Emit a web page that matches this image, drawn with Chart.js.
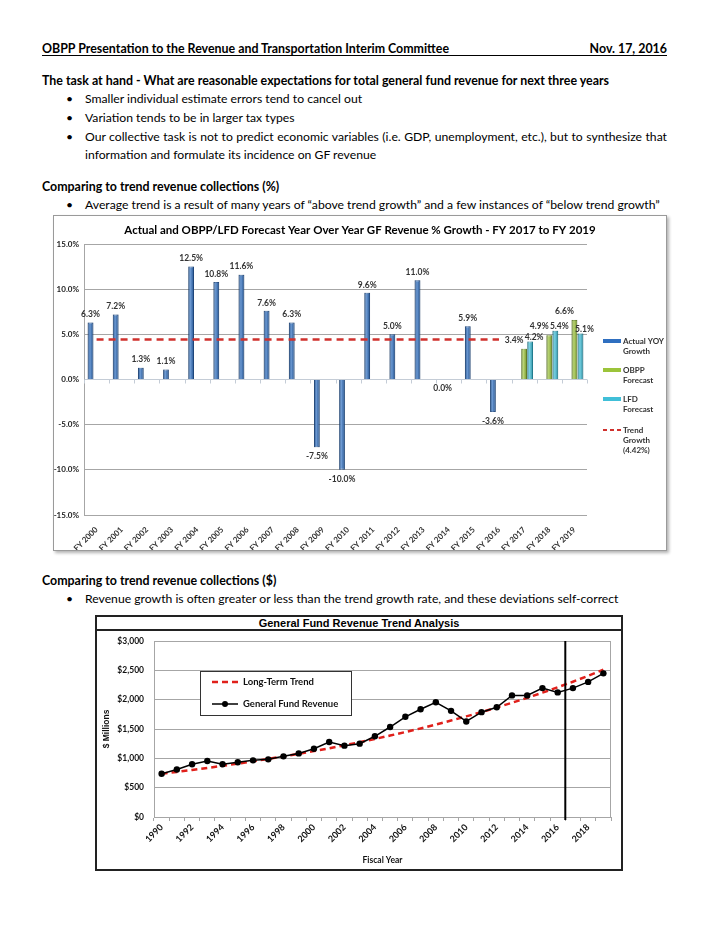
<!DOCTYPE html>
<html>
<head>
<meta charset="utf-8">
<script src="https://cdn.jsdelivr.net/npm/chart.js@4"></script>
<style>
  body { margin: 0; background: #fff; width: 720px; height: 932px; position: relative; font-family: Lato, "Liberation Sans", sans-serif; color: #000; }
  .ln { position: absolute; left: 42px; font-size: 12.2px; line-height: 16px; white-space: nowrap; }
  .b { font-weight: bold; font-size: 12.4px; }
  .bl { left: 85px; }
  .dot { position: absolute; left: -19px; }
  .head { top: 42px; width: 625px; height: 13px; line-height: 13px; border-bottom: 1px solid #000; display: flex; justify-content: space-between; }
  .box { position: absolute; box-sizing: border-box; }
</style>
</head>
<body>

<div class="ln b head"><span>OBPP Presentation to the Revenue and Transportation Interim Committee</span><span>Nov. 17, 2016</span></div>

<div class="ln b" style="top:73px">The task at hand - What are reasonable expectations for total general fund revenue for next three years</div>
<div class="ln bl" style="top:91px"><span class="dot">&bull;</span>Smaller individual estimate errors tend to cancel out</div>
<div class="ln bl" style="top:110px"><span class="dot">&bull;</span>Variation tends to be in larger tax types</div>
<div class="ln bl" style="top:129px;width:582px;text-align:justify;text-align-last:justify;word-spacing:-0.5px"><span class="dot">&bull;</span>Our collective task is not to predict economic variables (i.e. GDP, unemployment, etc.), but to synthesize that</div>
<div class="ln bl" style="top:147px">information and formulate its incidence on GF revenue</div>

<div class="ln b" style="top:179px">Comparing to trend revenue collections (%)</div>
<div class="ln bl" style="top:197px"><span class="dot">&bull;</span>Average trend is a result of many years of &ldquo;above trend growth&rdquo; and a few instances of &ldquo;below trend growth&rdquo;</div>

<div class="box" style="left:53px;top:215px;width:614px;height:336px;border:1px solid #9a9a9a;box-shadow:2px 2px 3px rgba(0,0,0,0.3)">
  <canvas id="growthChart"></canvas>
</div>

<div class="ln b" style="top:573px">Comparing to trend revenue collections ($)</div>
<div class="ln bl" style="top:591px"><span class="dot">&bull;</span>Revenue growth is often greater or less than the trend growth rate, and these deviations self-correct</div>

<div class="box" style="left:95px;top:615px;width:528px;height:256px;border:2px solid #222">
  <div style="position:absolute;left:0;top:0;right:0;bottom:0"><canvas id="trendChart"></canvas></div>
  <div style="position:absolute;left:0;top:0;right:0;height:12px;border-bottom:2px solid #222;background:#fff;font:bold 11px 'Liberation Sans',Arial,sans-serif;line-height:12px;text-align:center">General Fund Revenue Trend Analysis</div>
</div>

<script>
// grafico 1 - crescita anno su anno
const fyLabels = ["FY 2000", "FY 2001", "FY 2002", "FY 2003", "FY 2004", "FY 2005", "FY 2006", "FY 2007", "FY 2008", "FY 2009",
  "FY 2010", "FY 2011", "FY 2012", "FY 2013", "FY 2014", "FY 2015", "FY 2016", "FY 2017", "FY 2018", "FY 2019"];
const actualGrowth = [6.3, 7.2, 1.3, 1.1, 12.5, 10.8, 11.6, 7.6, 6.3, -7.5, -10.0, 9.6, 5.0, 11.0, 0.0, 5.9, -3.6, null, null, null];
const obppForecast = [null, null, null, null, null, null, null, null, null, null, null, null, null, null, null, null, null, 3.4, 4.9, 6.6];
const lfdForecast = [null, null, null, null, null, null, null, null, null, null, null, null, null, null, null, null, null, 4.2, 5.4, 5.1];
const trendGrowth = 4.42;

// grafico 2 - entrate in milioni
const years = ["1990", "1991", "1992", "1993", "1994", "1995", "1996", "1997", "1998", "1999",
  "2000", "2001", "2002", "2003", "2004", "2005", "2006", "2007", "2008", "2009",
  "2010", "2011", "2012", "2013", "2014", "2015", "2016", "2017", "2018", "2019"];
const gfRevenue = [736, 809, 899, 955, 899, 933, 966, 983, 1034, 1084,
  1163, 1278, 1216, 1250, 1376, 1534, 1708, 1837, 1955, 1809,
  1629, 1787, 1871, 2073, 2073, 2197, 2124, 2197, 2303, 2449];
const longTermTrend = [736, 768, 801, 835, 872, 909, 949, 990, 1032, 1077,
  1123, 1172, 1223, 1275, 1330, 1388, 1448, 1510, 1576, 1644,
  1715, 1789, 1866, 1947, 2031, 2119, 2211, 2306, 2406, 2510];
const forecastStart = "2017";

const calibri = "Lato, 'Liberation Sans', sans-serif";
const arial = "'Liberation Sans', Arial, sans-serif";

// etichette, titolo, legenda del grafico 1
const growthDecor = {
  id: "growthDecor",
  beforeDatasetsDraw(chart) {
    const { ctx, chartArea: ca, scales } = chart;
    const y0 = scales.y.getPixelForValue(0);
    const n = fyLabels.length;
    ctx.save();
    ctx.strokeStyle = "#c4ccd6";
    ctx.lineWidth = 1;
    ctx.beginPath();
    for (let i = 0; i <= n; i++) {
      const x = Math.round(ca.left + i * (ca.right - ca.left) / n) + 0.5;
      ctx.moveTo(x, y0);
      ctx.lineTo(x, y0 + 4);
    }
    ctx.stroke();
    ctx.restore();
  },
  // effetto cilindro sulle barre
  afterDatasetDraw(chart, args) {
    if (args.index > 2) return;
    const ctx = chart.ctx;
    const vals = chart.data.datasets[args.index].data;
    ctx.save();
    args.meta.data.forEach((el, i) => {
      if (vals[i] === null) return;
      const p = el.getProps(["x", "y", "base", "width"], true);
      const l = p.x - p.width / 2;
      const g = ctx.createLinearGradient(l, 0, l + p.width, 0);
      g.addColorStop(0, "rgba(0,0,0,0.25)");
      g.addColorStop(0.4, "rgba(255,255,255,0.3)");
      g.addColorStop(1, "rgba(0,0,0,0.2)");
      ctx.fillStyle = g;
      ctx.fillRect(l, Math.min(p.y, p.base), p.width, Math.abs(p.base - p.y));
    });
    ctx.restore();
  },
  afterDraw(chart) {
    const { ctx, chartArea: ca } = chart;
    ctx.save();
    // titolo
    ctx.fillStyle = "#000";
    ctx.font = "bold 11.5px " + calibri;
    ctx.textAlign = "center";
    ctx.textBaseline = "middle";
    ctx.fillText("Actual and OBPP/LFD Forecast Year Over Year GF Revenue % Growth - FY 2017 to FY 2019", chart.width / 2, 14);

    // valori sulle barre
    ctx.font = "bold 8.5px " + calibri;
    ctx.fillStyle = "#333";
    const dxs = [0, -10, 4];
    const ups = [8, 9, 4];
    [0, 1, 2].forEach(di => {
      const meta = chart.getDatasetMeta(di);
      chart.data.datasets[di].data.forEach((v, i) => {
        if (v === null) return;
        const el = meta.data[i];
        const y = v > 0 ? el.y - ups[di] : el.y + 9;
        ctx.fillText(v.toFixed(1) + "%", el.x + dxs[di], y);
      });
    });

    // legenda
    const lx = ca.right + 16;
    const items = [
      { lines: ["Actual YOY", "Growth"], color: "#2f6fc0", y: ca.top + 97 },
      { lines: ["OBPP", "Forecast"], color: "#9cc43a", y: ca.top + 126 },
      { lines: ["LFD", "Forecast"], color: "#40bfd8", y: ca.top + 155 },
      { lines: ["Trend", "Growth", "(4.42%)"], color: "#d0312d", y: ca.top + 186, dash: true }
    ];
    ctx.textAlign = "left";
    ctx.font = "bold 8px " + calibri;
    items.forEach(it => {
      if (it.dash) {
        ctx.strokeStyle = it.color;
        ctx.lineWidth = 2;
        ctx.setLineDash([4, 3]);
        ctx.beginPath();
        ctx.moveTo(lx, it.y);
        ctx.lineTo(lx + 18, it.y);
        ctx.stroke();
        ctx.setLineDash([]);
      } else {
        ctx.fillStyle = it.color;
        ctx.fillRect(lx, it.y - 2, 18, 4);
      }
      ctx.fillStyle = "#333";
      it.lines.forEach((t, k) => ctx.fillText(t, lx + 20, it.y + k * 10));
    });
    ctx.restore();
  }
};

new Chart(document.getElementById("growthChart"), {
  type: "bar",
  data: {
    labels: fyLabels,
    datasets: [
      { label: "Actual YOY Growth", data: actualGrowth, backgroundColor: "#2f6fc0", borderColor: "#1d4f91", borderWidth: 1, order: 1 },
      { label: "OBPP Forecast", data: obppForecast, backgroundColor: "#9cc43a", borderColor: "#6f9526", borderWidth: 1, order: 1 },
      { label: "LFD Forecast", data: lfdForecast, backgroundColor: "#40bfd8", borderColor: "#1f91a8", borderWidth: 1, order: 1 },
      {
        type: "line", label: "Trend Growth (4.42%)",
        data: actualGrowth.map(v => (v === null ? null : trendGrowth)),
        borderColor: "#d0312d", borderWidth: 2.5, borderDash: [7, 5], pointRadius: 0, fill: false, order: 0
      }
    ]
  },
  options: {
    responsive: true,
    maintainAspectRatio: false,
    animation: false,
    barPercentage: 0.95,
    categoryPercentage: 0.72,
    layout: { padding: { top: 28, right: 79, left: 0, bottom: 0 } },
    plugins: { legend: { display: false }, tooltip: { enabled: false } },
    scales: {
      x: {
        afterFit(scale) { scale.height = 35; },
        grid: { display: false },
        border: { display: false },
        ticks: { minRotation: 45, maxRotation: 45, autoSkip: false, padding: 2, color: "#333", font: { family: calibri, size: 8, weight: "bold" } }
      },
      y: {
        min: -15, max: 15,
        afterFit(scale) { scale.width = 30; },
        grid: { color: ctx => (ctx.tick && ctx.tick.value === 0 ? "#c4ccd6" : "#a6a6a6"), drawTicks: false },
        border: { color: "#a6a6a6" },
        ticks: { stepSize: 5, padding: 5, color: "#222", font: { family: calibri, size: 8, weight: "bold" }, callback: v => v.toFixed(1) + "%" }
      }
    }
  },
  plugins: [growthDecor]
});

// riquadro, linea verticale e legenda del grafico 2
const trendDecor = {
  id: "trendDecor",
  afterDatasetsDraw(chart) {
    const { ctx, chartArea: ca, scales } = chart;
    ctx.save();
    ctx.strokeStyle = "#a6a6a6";
    ctx.lineWidth = 1;
    ctx.beginPath();
    ctx.moveTo(ca.left, ca.top + 0.5);
    ctx.lineTo(ca.right - 0.5, ca.top + 0.5);
    ctx.lineTo(ca.right - 0.5, ca.bottom);
    ctx.stroke();

    const i = years.indexOf(forecastStart);
    const vx = (scales.x.getPixelForValue(i - 1) + scales.x.getPixelForValue(i)) / 2;
    ctx.strokeStyle = "#000";
    ctx.lineWidth = 2;
    ctx.beginPath();
    ctx.moveTo(vx, ca.top);
    ctx.lineTo(vx, ca.bottom + 3);
    ctx.stroke();

    // titolo asse y
    ctx.save();
    ctx.translate(ca.left - 47, (ca.top + ca.bottom) / 2);
    ctx.rotate(-Math.PI / 2);
    ctx.font = "bold 8.5px " + arial;
    ctx.fillStyle = "#111";
    ctx.textAlign = "center";
    ctx.textBaseline = "middle";
    ctx.fillText("$ Millions", 0, 0);
    ctx.restore();

    // legenda
    const bx = ca.left + 46, by = ca.top + 30;
    ctx.fillStyle = "#fff";
    ctx.fillRect(bx, by, 151, 44);
    ctx.strokeStyle = "#333";
    ctx.lineWidth = 1;
    ctx.strokeRect(bx + 0.5, by + 0.5, 151, 44);

    ctx.strokeStyle = "#e0201b";
    ctx.lineWidth = 2.5;
    ctx.setLineDash([6, 4]);
    ctx.beginPath();
    ctx.moveTo(bx + 12, by + 11);
    ctx.lineTo(bx + 38, by + 11);
    ctx.stroke();
    ctx.setLineDash([]);

    ctx.strokeStyle = "#000";
    ctx.lineWidth = 1.5;
    ctx.beginPath();
    ctx.moveTo(bx + 12, by + 33);
    ctx.lineTo(bx + 38, by + 33);
    ctx.stroke();
    ctx.fillStyle = "#000";
    ctx.beginPath();
    ctx.arc(bx + 25, by + 33, 3, 0, Math.PI * 2);
    ctx.fill();

    ctx.font = "bold 9.5px " + calibri;
    ctx.textBaseline = "middle";
    ctx.fillStyle = "#111";
    ctx.fillText("Long-Term Trend", bx + 43, by + 11);
    ctx.fillText("General Fund Revenue", bx + 43, by + 33);
    ctx.restore();
  }
};

new Chart(document.getElementById("trendChart"), {
  type: "line",
  data: {
    labels: years,
    datasets: [
      { label: "General Fund Revenue", data: gfRevenue, borderColor: "#000", backgroundColor: "#000", borderWidth: 1.5, pointRadius: 3.2, pointBorderWidth: 0, tension: 0, order: 0 },
      { label: "Long-Term Trend", data: longTermTrend, borderColor: "#e0201b", borderWidth: 2.5, borderDash: [6, 4], pointRadius: 0, tension: 0, order: 1 }
    ]
  },
  options: {
    responsive: true,
    maintainAspectRatio: false,
    animation: false,
    layout: { padding: { top: 24, right: 10, left: 0, bottom: 0 } },
    plugins: { legend: { display: false }, tooltip: { enabled: false } },
    scales: {
      x: {
        offset: true,
        afterFit(scale) { scale.height = 52; },
        grid: { offset: true, drawOnChartArea: false, tickLength: 4, color: "#a6a6a6" },
        border: { color: "#a6a6a6" },
        title: { display: true, text: "Fiscal Year", color: "#111", font: { family: calibri, size: 8.5, weight: "bold" }, padding: { top: 0, bottom: 4 } },
        ticks: {
          autoSkip: false, minRotation: 45, maxRotation: 45, padding: 1, color: "#111",
          font: { family: calibri, size: 9, weight: "bold" },
          callback: (v, i) => (i % 2 === 0 ? years[i] : "")
        }
      },
      y: {
        min: 0, max: 3000,
        afterFit(scale) { scale.width = 57; },
        grid: { color: "#a6a6a6", drawTicks: false },
        border: { color: "#a6a6a6" },
        ticks: { stepSize: 500, padding: 10, color: "#111", font: { family: calibri, size: 8.5, weight: "bold" }, callback: v => "$" + v.toLocaleString("en-US") }
      }
    }
  },
  plugins: [trendDecor]
});
</script>
</body>
</html>
